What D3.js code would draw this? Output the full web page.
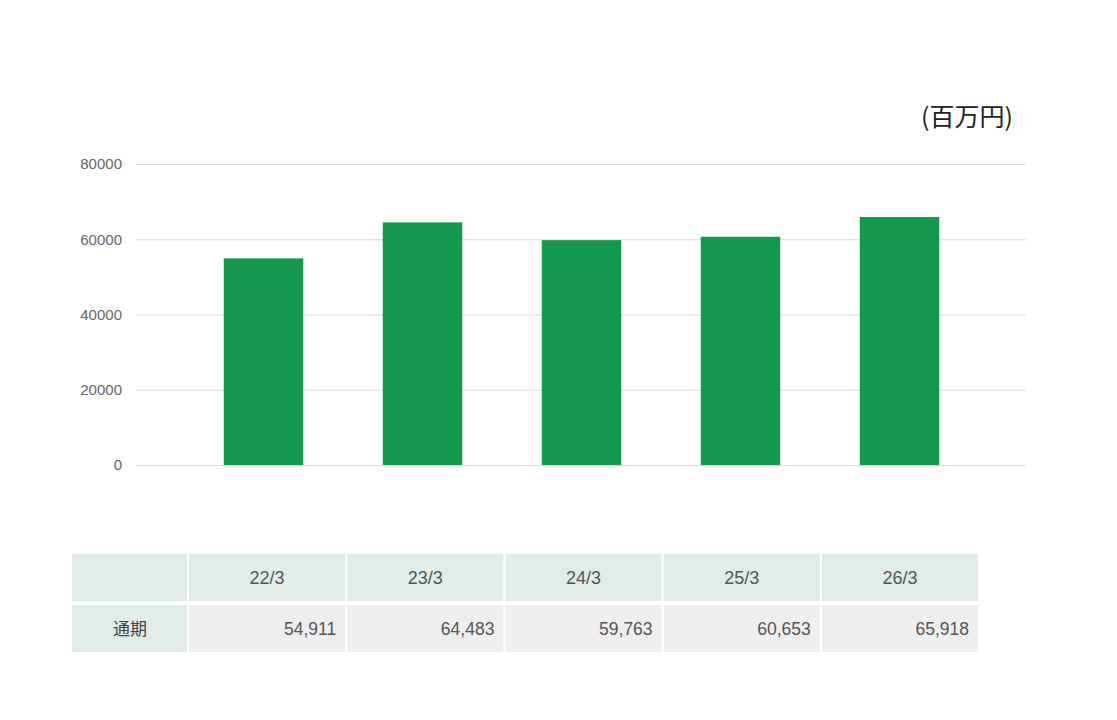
<!DOCTYPE html>
<html>
<head>
<meta charset="utf-8">
<script src="https://cdn.jsdelivr.net/npm/d3@7"></script>
<style>
  body { margin: 0; background: #fff; }
  svg { display: block; font-family: "Liberation Sans", Arial, "Noto Sans CJK JP", sans-serif; }
</style>
</head>
<body>
<svg id="chart" width="1117" height="720"></svg>
<script>
// data
var periods = ['22/3', '23/3', '24/3', '25/3', '26/3'];
var values = [54911, 64483, 59763, 60653, 65918];
var yTicks = [0, 20000, 40000, 60000, 80000];
var rowLabel = '通期';
var unitLabel = '(百万円)';

var svg = d3.select('#chart');

/* Scales */
var x = d3.scaleBand()
  .domain(periods)
  .range([184, 979])
  .paddingInner(0.5)
  .paddingOuter(0.25);

var y = d3.scaleLinear()
  .domain([0, 80000])
  .range([465, 164]);

/* Grid + y axis */
var yAxis = d3.axisLeft(y)
  .tickValues(yTicks)
  .tickSize(-(1026 - 136))
  .tickPadding(14)
  .tickFormat(d3.format('d'));

var gy = svg.append('g')
  .attr('transform', 'translate(136,0)')
  .call(yAxis);
gy.select('.domain').remove();
gy.selectAll('.tick line').attr('stroke', '#dcdcdc').attr('stroke-width', 1);
gy.selectAll('.tick text')
  .attr('fill', '#666')
  .style('font-size', '15px');

/* Bars */
svg.append('g')
  .selectAll('rect')
  .data(values)
  .join('rect')
  .attr('x', function (d, i) { return x(periods[i]); })
  .attr('y', function (d) { return y(d); })
  .attr('width', x.bandwidth())
  .attr('height', function (d) { return y(0) - y(d); })
  .attr('fill', '#13994b');

/* Unit label */
svg.append('text')
  .attr('x', 1013)
  .attr('y', 126)
  .attr('text-anchor', 'end')
  .attr('fill', '#222')
  .style('font-family', '"Noto Sans CJK JP", sans-serif')
  .style('font-size', '25px')
  .text(unitLabel);

/* Table */
var col = d3.scaleBand()
  .domain(periods)
  .range([188, 979]);
var gap = 2;
var headTop = 554, headH = 47;
var rowTop = 605, rowH = 47;

var table = svg.append('g');

// header row
table.append('rect')
  .attr('x', 72).attr('y', headTop)
  .attr('width', 188 - 72 - gap / 2).attr('height', headH)
  .attr('fill', '#e1ebe7');
table.selectAll('rect.head')
  .data(periods)
  .join('rect')
  .attr('class', 'head')
  .attr('x', function (d) { return col(d) + gap / 2; })
  .attr('y', headTop)
  .attr('width', col.bandwidth() - gap)
  .attr('height', headH)
  .attr('fill', '#e1ebe7');
table.selectAll('text.head')
  .data(periods)
  .join('text')
  .attr('class', 'head')
  .attr('x', function (d) { return col(d) + col.bandwidth() / 2; })
  .attr('y', headTop + headH / 2 + 6)
  .attr('text-anchor', 'middle')
  .attr('fill', '#555')
  .style('font-size', '18px')
  .text(function (d) { return d; });

// data row
table.append('rect')
  .attr('x', 72).attr('y', rowTop)
  .attr('width', 188 - 72 - gap / 2).attr('height', rowH)
  .attr('fill', '#e1ebe7');
table.append('text')
  .attr('x', 130)
  .attr('y', rowTop + rowH / 2 + 6)
  .attr('text-anchor', 'middle')
  .attr('fill', '#444')
  .style('font-family', '"Noto Sans CJK JP", sans-serif')
  .style('font-size', '17px')
  .text(rowLabel);
table.selectAll('rect.val')
  .data(values)
  .join('rect')
  .attr('class', 'val')
  .attr('x', function (d, i) { return col(periods[i]) + gap / 2; })
  .attr('y', rowTop)
  .attr('width', col.bandwidth() - gap)
  .attr('height', rowH)
  .attr('fill', '#eeeeee');
table.selectAll('text.val')
  .data(values)
  .join('text')
  .attr('class', 'val')
  .attr('x', function (d, i) { return col(periods[i]) + col.bandwidth() - 10; })
  .attr('y', rowTop + rowH / 2 + 6)
  .attr('text-anchor', 'end')
  .attr('fill', '#555')
  .style('font-size', '17.5px')
  .text(function (d) { return d3.format(',')(d); });
</script>
</body>
</html>
